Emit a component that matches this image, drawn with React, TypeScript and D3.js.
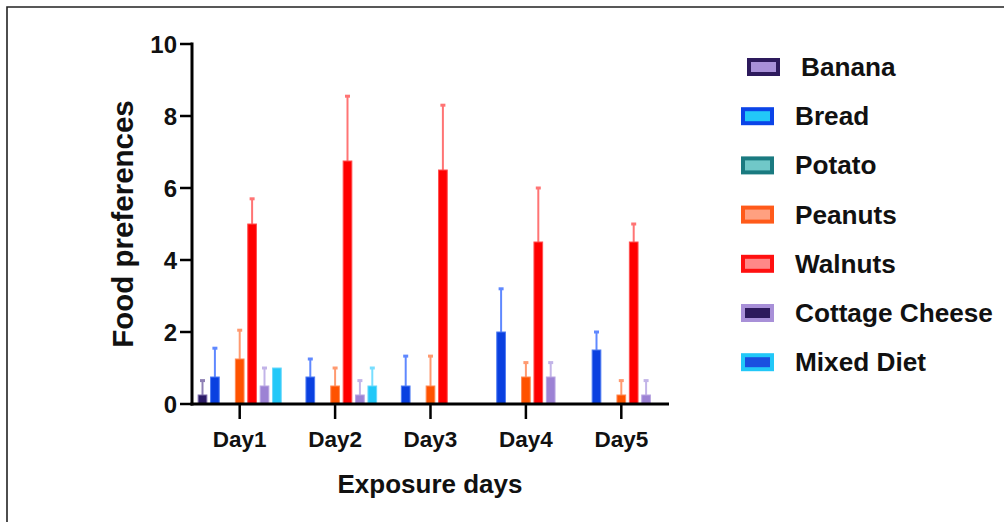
import React from 'react'
import * as d3 from 'd3'

const W = 1004
const H = 522
const M = { top: 44, left: 192, right: 335, bottom: 118 }

const DAYS = ['Day1', 'Day2', 'Day3', 'Day4', 'Day5']
const SERIES = ['Banana', 'Bread', 'Potato', 'Peanuts', 'Walnuts', 'Cottage Cheese', 'Mixed Diet']
const Y_TICKS = [0, 2, 4, 6, 8, 10]

// means per day
const BANANA = [0.25, 0, 0, 0, 0]
const BREAD = [0.75, 0.75, 0.5, 2.0, 1.5]
const POTATO = [0, 0, 0, 0, 0]
const PEANUTS = [1.25, 0.5, 0.5, 0.75, 0.25]
const WALNUTS = [5.0, 6.75, 6.5, 4.5, 4.5]
const COTTAGE = [0.5, 0.25, 0, 0.75, 0.25]
const MIXED = [1.0, 0.5, 0, 0, 0]

// upper error (SD) per day, 0 = none drawn
const BANANA_ERR = [0.4, 0, 0, 0, 0]
const BREAD_ERR = [0.8, 0.5, 0.83, 1.2, 0.5]
const POTATO_ERR = [0, 0, 0, 0, 0]
const PEANUTS_ERR = [0.8, 0.5, 0.83, 0.4, 0.4]
const WALNUTS_ERR = [0.7, 1.8, 1.8, 1.5, 0.5]
const COTTAGE_ERR = [0.5, 0.4, 0, 0.4, 0.4]
const MIXED_ERR = [0, 0.5, 0, 0, 0]

const VALUES = [BANANA, BREAD, POTATO, PEANUTS, WALNUTS, COTTAGE, MIXED]
const ERRORS = [BANANA_ERR, BREAD_ERR, POTATO_ERR, PEANUTS_ERR, WALNUTS_ERR, COTTAGE_ERR, MIXED_ERR]

// bar fill, bar outline, error bar, legend border, legend inner
const STYLE = [
  { fill: '#2c1c66', edge: '#7a6aa8', err: '#8e80b4', lb: '#2d1a5c', li: '#a890d8' },
  { fill: '#0a40e0', edge: '#4f7cf2', err: '#5f88ff', lb: '#0b44e8', li: '#22c8f8' },
  { fill: '#1f8085', edge: '#6cc7c9', err: '#6cc7c9', lb: '#1a7a80', li: '#70c8c8' },
  { fill: '#ff5200', edge: '#ff8a55', err: '#ff9a70', lb: '#ff5a1a', li: '#ffa080' },
  { fill: '#ff0000', edge: '#ff5050', err: '#ff7474', lb: '#ff1010', li: '#ff8888' },
  { fill: '#9c82d4', edge: '#b9a6e2', err: '#c2b4e8', lb: '#a890d8', li: '#2d1a5c' },
  { fill: '#22c8f8', edge: '#6ad8fb', err: '#78deff', lb: '#22c8f8', li: '#1a4fe0' },
]

const FONT = '"Liberation Sans", Arial, sans-serif'

export default function App() {
  const x0 = d3.scaleBand<string>().domain(DAYS).range([M.left, W - M.right]).padding(0)
  const x1 = d3
    .scaleBand<string>()
    .domain(SERIES)
    .range([-43.4, 43.4])
    .paddingInner(0.3)
    .paddingOuter(0.15)
  const y = d3.scaleLinear().domain([0, 10]).range([H - M.bottom, M.top])
  const bw = x1.bandwidth()
  const yBase = y(0)

  return (
    <div style={{ position: 'absolute', left: 0, top: 0 }}>
      <svg width={W} height={H} style={{ display: 'block', fontFamily: FONT }}>
        <rect width={W} height={H} fill="#fff" />
        <path d={`M7,${H} V7 H${W}`} fill="none" stroke="#222" strokeWidth={1.6} />

        {/* bars + error bars */}
        {SERIES.map((s, si) =>
          DAYS.map((d, di) => {
            const v = VALUES[si][di]
            const e = ERRORS[si][di]
            const cx = (x0(d) ?? 0) + x0.bandwidth() / 2 + (x1(s) ?? 0) + bw / 2
            const st = STYLE[si]
            return (
              <g key={`${s}-${d}`}>
                {e > 0 && (
                  <g>
                    <line x1={cx} x2={cx} y1={y(v)} y2={y(v + e)} stroke={st.err} strokeWidth={2} />
                    <line x1={cx - 2.5} x2={cx + 2.5} y1={y(v + e)} y2={y(v + e)} stroke={st.err} strokeWidth={3} />
                  </g>
                )}
                {v > 0 && (
                  <rect
                    x={cx - bw / 2}
                    y={y(v)}
                    width={bw}
                    height={yBase - y(v)}
                    fill={st.fill}
                    stroke={st.edge}
                    strokeWidth={1}
                  />
                )}
              </g>
            )
          })
        )}

        {/* y axis */}
        <line x1={M.left} x2={M.left} y1={y(10) - 1.5} y2={yBase + 1.5} stroke="#000" strokeWidth={3} />
        {Y_TICKS.map((t) => (
          <g key={t}>
            <line x1={M.left - 12} x2={M.left} y1={y(t)} y2={y(t)} stroke="#000" strokeWidth={2.5} />
            <text
              x={M.left - 15}
              y={y(t)}
              textAnchor="end"
              dominantBaseline="central"
              fontSize={24}
              fontWeight="bold"
              fill="#111"
            >
              {t}
            </text>
          </g>
        ))}

        {/* x axis */}
        <line x1={M.left - 1.5} x2={W - M.right} y1={yBase} y2={yBase} stroke="#000" strokeWidth={3} />
        {DAYS.map((d) => {
          const cx = (x0(d) ?? 0) + x0.bandwidth() / 2
          return (
            <g key={d}>
              <line x1={cx} x2={cx} y1={yBase} y2={yBase + 15} stroke="#000" strokeWidth={2.5} />
              <text x={cx} y={yBase + 43} textAnchor="middle" fontSize={22.5} fontWeight="bold" fill="#111">
                {d}
              </text>
            </g>
          )
        })}

        <text x={430} y={493} textAnchor="middle" fontSize={26} fontWeight="bold" fill="#111">
          Exposure days
        </text>
        <text
          transform={`translate(133,${(y(10) + yBase) / 2}) rotate(-90)`}
          textAnchor="middle"
          fontSize={29.5}
          fontWeight="bold"
          fill="#111"
        >
          Food preferences
        </text>

        {/* legend */}
        {SERIES.map((s, i) => {
          const cy = 67 + i * 49.2
          const dx = i === 0 ? 6 : 0
          const st = STYLE[i]
          return (
            <g key={s} transform={`translate(${741 + dx},${cy})`}>
              <rect x={2} y={-7} width={29} height={14} fill={st.li} stroke={st.lb} strokeWidth={4} />
              <text x={54} y={0} dominantBaseline="central" fontSize={26.2} fontWeight="bold" fill="#111">
                {s}
              </text>
            </g>
          )
        })}
      </svg>
    </div>
  )
}
